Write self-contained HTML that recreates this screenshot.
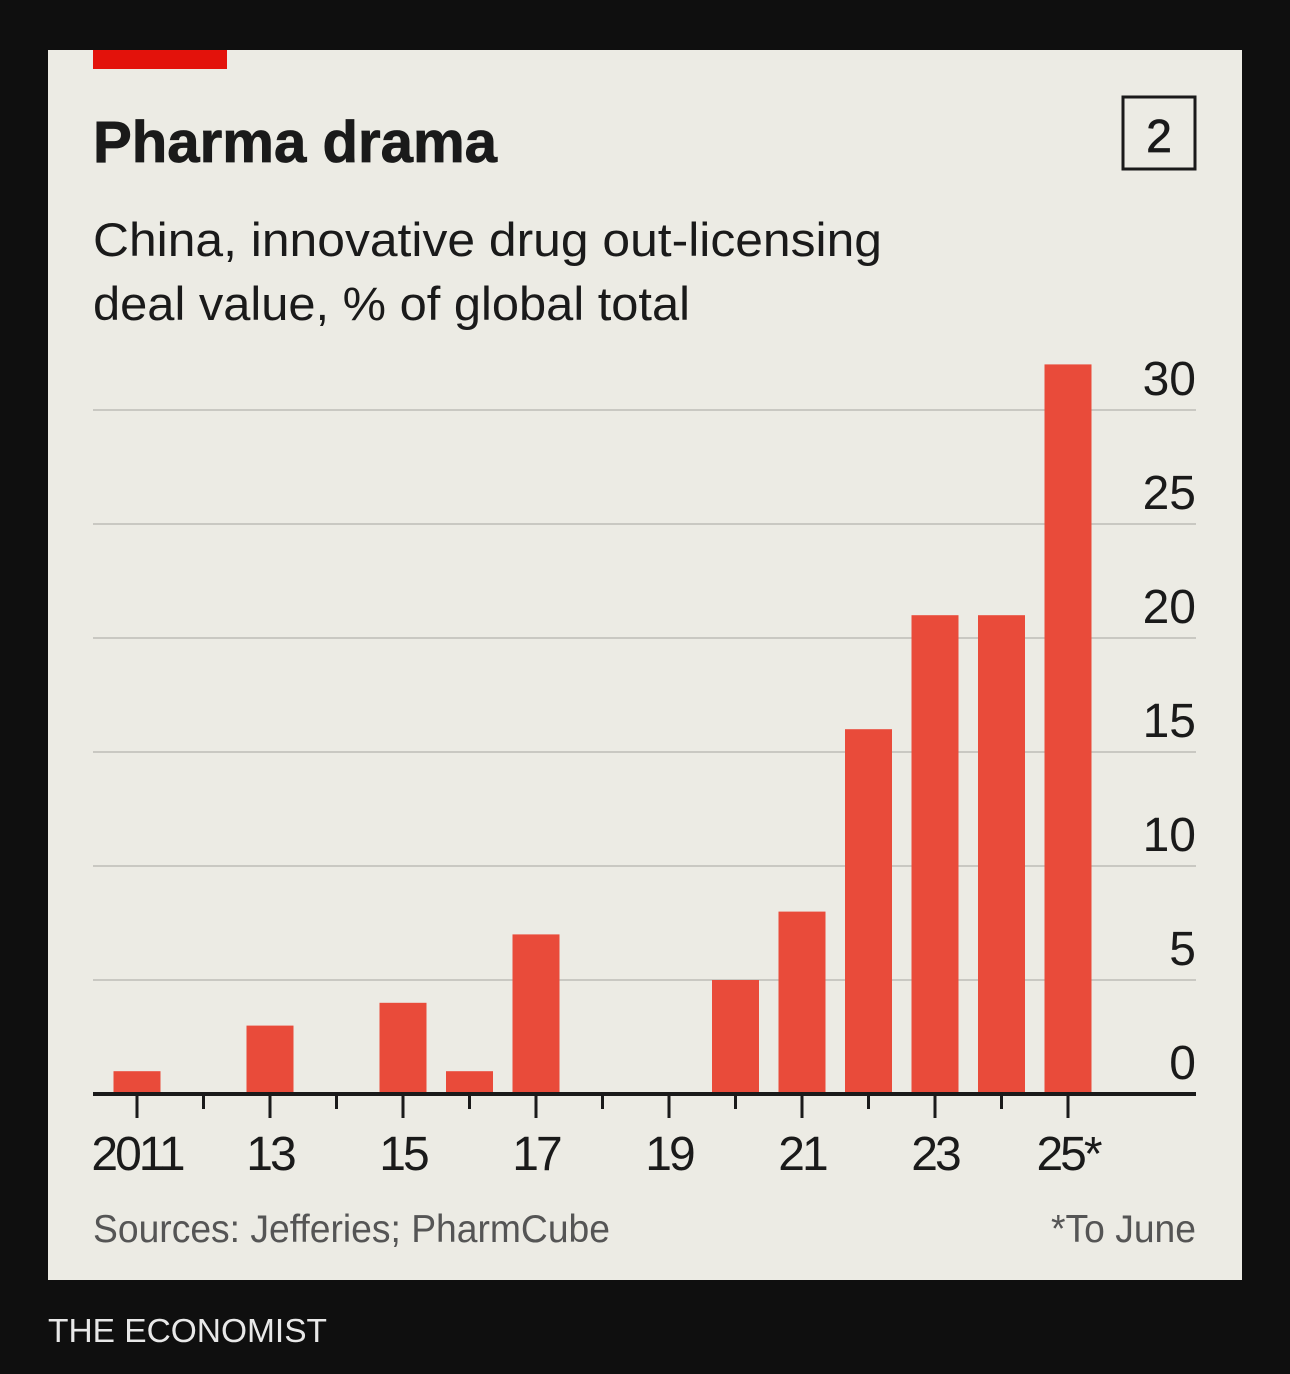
<!DOCTYPE html>
<html><head><meta charset="utf-8"><style>
html,body{margin:0;padding:0;background:#0f0f0f;}
svg{display:block;font-family:"Liberation Sans",sans-serif;}
</style></head><body>
<svg width="1290" height="1374" viewBox="0 0 1290 1374">
<rect x="0" y="0" width="1290" height="1374" fill="#0f0f0f"/>
<rect x="48" y="50" width="1194" height="1230" fill="#ecebe4"/>
<rect x="93" y="50" width="134" height="19" fill="#e3120b"/>
<text x="93" y="162" font-size="58" font-weight="bold" fill="#1a1a1a" stroke="#1a1a1a" stroke-width="0.8" textLength="404" lengthAdjust="spacingAndGlyphs">Pharma drama</text>
<rect x="1123" y="97" width="72" height="72" fill="none" stroke="#1a1a1a" stroke-width="3"/>
<text x="1159" y="152" font-size="46" fill="#1a1a1a" stroke="#1a1a1a" stroke-width="0.8" text-anchor="middle">2</text>
<text x="93" y="256" font-size="47" fill="#1a1a1a" textLength="789" lengthAdjust="spacingAndGlyphs">China, innovative drug out-licensing</text>
<text x="93" y="320" font-size="47" fill="#1a1a1a" textLength="597" lengthAdjust="spacingAndGlyphs">deal value, % of global total</text>
<g id="grid"></g>
<g id="bars"></g>
<g id="axis"></g>
<text x="93" y="1242" font-size="39" fill="#555" textLength="517" lengthAdjust="spacingAndGlyphs">Sources: Jefferies; PharmCube</text>
<text x="1196" y="1242" font-size="39" fill="#555" text-anchor="end" textLength="145" lengthAdjust="spacingAndGlyphs">*To June</text>
<text x="48" y="1342" font-size="33" fill="#e8e8e8" textLength="279" lengthAdjust="spacingAndGlyphs">THE ECONOMIST</text>
</svg>
<script>
const years = [2011,2012,2013,2014,2015,2016,2017,2018,2019,2020,2021,2022,2023,2024,2025];
const values = [1,0,3,0,4,1,7,0,0,5,8,16,21,21,32];
const yTicks = [0,5,10,15,20,25,30];
const xLabels = ["2011","","13","","15","","17","","19","","21","","23","","25*"];
const NS="http://www.w3.org/2000/svg";
const y0=1094, pxPerUnit=22.8;
const yScale=v=>y0-v*pxPerUnit;
const xScale=i=>137+i*66.5;
const grid=document.getElementById('grid'), bars=document.getElementById('bars'), axis=document.getElementById('axis');
function mk(tag,attrs,parent){const e=document.createElementNS(NS,tag);for(const k in attrs)e.setAttribute(k,attrs[k]);parent.appendChild(e);return e;}
yTicks.forEach(t=>{
  const y=yScale(t);
  if(t>0){const l=mk('line',{x1:93,x2:1196,y1:y,y2:y,stroke:'#c9c8c2','stroke-width':2},grid);
    
    }
  const tx=mk('text',{x:1196,y:y-15,'font-size':48,fill:'#1a1a1a','text-anchor':'end'},grid);
  tx.textContent=t;
  
  
});
values.forEach((v,i)=>{
  if(v<=0)return;
  const r=mk('rect',{x:xScale(i)-23.5,y:yScale(v),width:47,height:y0-yScale(v),fill:'#e94b3a'},bars);
  
  
});
const base=mk('line',{x1:93,x2:1196,y1:y0,y2:y0,stroke:'#1a1a1a','stroke-width':4},axis);


years.forEach((yr,i)=>{
  const major=xLabels[i]!=="";
  const tk=mk('line',{x1:xScale(i),x2:xScale(i),y1:y0,y2:major?y0+24:y0+15,stroke:'#1a1a1a','stroke-width':3},axis);
  
  
  if(major){
    const tx=mk('text',{x:xScale(i),y:1170,'font-size':48,fill:'#1a1a1a','text-anchor':'middle','letter-spacing':-3},axis);
    tx.textContent=xLabels[i];
    
    
  }
});
</script>
</body></html>
